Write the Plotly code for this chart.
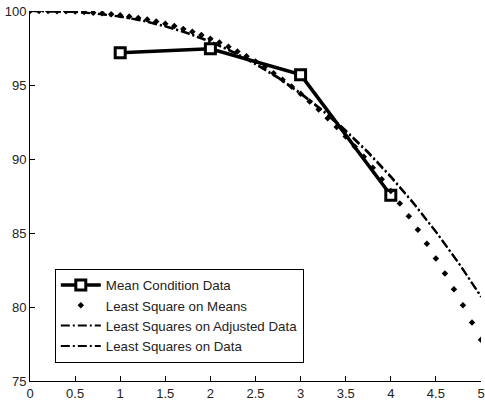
import plotly.graph_objects as go

# Mean condition data
mean_x = [1, 2, 3, 4]
mean_y = [97.18, 97.45, 95.7, 87.55]

# Least square on means (dotted, 0.1 steps)
lsm_x = [round(i * 0.1, 1) for i in range(51)]
lsm_y = [100.00, 100.00, 100.00, 99.99, 99.98, 99.96, 99.93, 99.89, 99.84, 99.78,
         99.71, 99.63, 99.53, 99.42, 99.29, 99.14, 98.98, 98.79, 98.59, 98.37,
         98.13, 97.87, 97.58, 97.27, 96.94, 96.58, 96.20, 95.79, 95.36, 94.90,
         94.41, 93.89, 93.34, 92.76, 92.16, 91.52, 90.85, 90.15, 89.41, 88.64,
         87.84, 87.00, 86.13, 85.22, 84.28, 83.28, 82.27, 81.20, 80.11, 78.96,
         77.79]

# Least squares on adjusted data / on data (dash-dot)
fit_x = [0, 0.25, 0.5, 0.75, 1.0, 1.25, 1.5, 1.75, 2.0, 2.25, 2.5, 2.75,
         3.0, 3.25, 3.5, 3.75, 4.0, 4.25, 4.5, 4.75, 5.0]
adj_y = [100.00, 99.99, 99.93, 99.80, 99.61, 99.33, 98.95, 98.48, 97.90, 97.21,
         96.40, 95.47, 94.40, 93.21, 91.87, 90.40, 88.77, 87.00, 85.07, 82.99, 80.74]
dat_y = [100.00, 99.99, 99.94, 99.82, 99.63, 99.36, 98.99, 98.52, 97.95, 97.26,
         96.46, 95.53, 94.47, 93.28, 91.95, 90.47, 88.84, 87.05, 85.10, 82.99, 80.68]

x_ticks = [0, 0.5, 1, 1.5, 2, 2.5, 3, 3.5, 4, 4.5, 5]
x_tick_labels = ["0", "0.5", "1", "1.5", "2", "2.5", "3", "3.5", "4", "4.5", "5"]
y_ticks = [75, 80, 85, 90, 95, 100]
y_tick_labels = ["75", "80", "85", "90", "95", "100"]

FONT = "Liberation Sans, Arial, sans-serif"

fig = go.Figure()
fig.add_trace(go.Scatter(
    x=mean_x, y=mean_y, mode="lines+markers", name="Mean Condition Data",
    line=dict(color="black", width=3.5),
    marker=dict(symbol="square", size=10, color="white",
                line=dict(color="black", width=3))))
fig.add_trace(go.Scatter(
    x=lsm_x, y=lsm_y, mode="markers", name="Least Square on Means",
    marker=dict(symbol="diamond", size=5, color="black")))
fig.add_trace(go.Scatter(
    x=fit_x, y=adj_y, mode="lines", name="Least Squares on Adjusted Data",
    line=dict(color="black", width=2, dash="9px,3px,2px,3px")))
fig.add_trace(go.Scatter(
    x=fit_x, y=dat_y, mode="lines", name="Least Squares on Data",
    line=dict(color="black", width=2, dash="9px,3px,2px,3px")))

axis_common = dict(
    showgrid=False, zeroline=False, showline=True, linecolor="black",
    linewidth=1, ticks="inside", ticklen=5, tickcolor="black",
    tickfont=dict(family=FONT, size=13, color="#222"),
    mirror=False, automargin=False)

fig.update_layout(
    width=485, height=407,
    margin=dict(l=30, r=4, t=11, b=26),
    paper_bgcolor="white", plot_bgcolor="white",
    showlegend=True,
    legend=dict(x=0.055, y=0.303, xanchor="left", yanchor="top",
                bordercolor="black", borderwidth=1, bgcolor="white",
                font=dict(family=FONT, size=13.3, color="#222"),
                tracegroupgap=0, itemwidth=40),
    xaxis=dict(range=[0, 5], tickvals=x_ticks, ticktext=x_tick_labels, **axis_common),
    yaxis=dict(range=[75, 100], tickvals=y_ticks, ticktext=y_tick_labels, **axis_common),
)

fig.write_html("out.html", config={"displayModeBar": False},
               post_script="document.body.style.margin='0px';")
